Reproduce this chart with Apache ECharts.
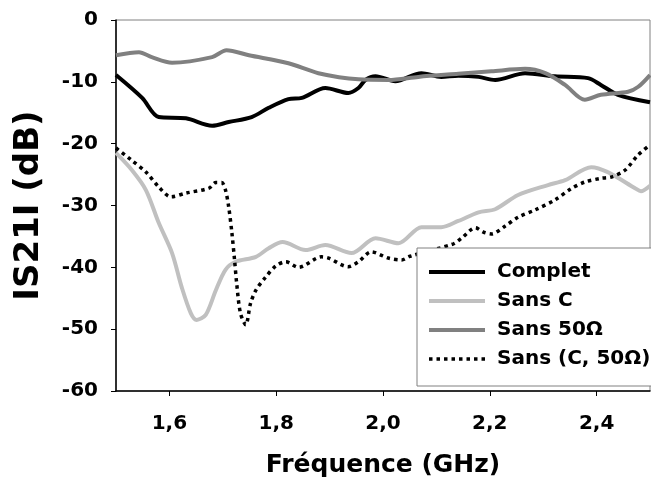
<!DOCTYPE html>
<html>
<head>
<meta charset="utf-8">
<script src="https://cdn.jsdelivr.net/npm/echarts@6/dist/echarts.min.js"></script>
<style>html,body{margin:0;padding:0;background:#fff}#c{width:651px;height:489px}</style>
</head>
<body>
<div id="c"></div>
<script>
var xTicks = [1.6, 1.8, 2.0, 2.2, 2.4];
var seriesNames = ['Complet', 'Sans C', 'Sans 50\u03A9', 'Sans (C, 50\u03A9)'];

var complet = [[1.500,-8.9],[1.549,-12.6],[1.580,-15.7],[1.631,-15.9],[1.680,-17.1],[1.711,-16.5],[1.754,-15.7],[1.786,-14.2],[1.823,-12.8],[1.848,-12.6],[1.892,-11.0],[1.935,-11.8],[1.954,-11.0],[1.967,-9.7],[1.986,-9.1],[2.023,-9.9],[2.072,-8.6],[2.109,-9.2],[2.141,-9.0],[2.179,-9.2],[2.210,-9.7],[2.266,-8.6],[2.322,-9.1],[2.384,-9.4],[2.408,-10.5],[2.440,-12.1],[2.500,-13.3]];

var sansC = [[1.500,-21.5],[1.530,-24.3],[1.556,-27.5],[1.580,-32.8],[1.605,-37.7],[1.623,-43.2],[1.640,-47.4],[1.651,-48.5],[1.668,-47.7],[1.687,-43.7],[1.705,-40.4],[1.724,-39.1],[1.762,-38.3],[1.786,-36.9],[1.812,-35.9],[1.855,-37.2],[1.892,-36.4],[1.941,-37.7],[1.986,-35.3],[2.029,-36.1],[2.072,-33.5],[2.109,-33.5],[2.141,-32.5],[2.179,-31.1],[2.210,-30.6],[2.253,-28.3],[2.309,-26.7],[2.341,-25.9],[2.390,-23.8],[2.421,-24.6],[2.472,-27.2],[2.483,-27.7],[2.500,-26.8]];

var sans50 = [[1.500,-5.7],[1.543,-5.2],[1.567,-6.0],[1.605,-6.9],[1.680,-6.0],[1.707,-4.9],[1.749,-5.7],[1.823,-7.0],[1.879,-8.6],[1.954,-9.6],[2.010,-9.7],[2.066,-9.2],[2.141,-8.7],[2.203,-8.3],[2.266,-7.9],[2.304,-8.6],[2.341,-10.5],[2.378,-12.9],[2.408,-12.1],[2.459,-11.6],[2.478,-10.8],[2.500,-8.9]];

var sansC50 = [[1.500,-20.7],[1.528,-22.6],[1.556,-24.6],[1.580,-27.0],[1.603,-28.6],[1.631,-28.0],[1.674,-27.2],[1.687,-26.3],[1.698,-26.3],[1.705,-27.5],[1.711,-30.2],[1.717,-34.4],[1.722,-38.8],[1.726,-42.6],[1.733,-47.4],[1.743,-49.3],[1.752,-45.8],[1.762,-43.7],[1.780,-41.6],[1.799,-39.8],[1.818,-39.1],[1.842,-40.0],[1.885,-38.3],[1.898,-38.5],[1.935,-39.9],[1.954,-39.1],[1.978,-37.5],[2.010,-38.5],[2.035,-38.8],[2.051,-38.2],[2.132,-36.2],[2.147,-35.3],[2.173,-33.6],[2.188,-34.3],[2.203,-34.6],[2.229,-33.3],[2.253,-31.9],[2.285,-30.7],[2.322,-29.1],[2.352,-27.3],[2.378,-26.2],[2.408,-25.6],[2.427,-25.4],[2.453,-24.3],[2.478,-21.8],[2.500,-20.2]];

var FONT = 'DejaVu Sans';
var colors = ['#000000', '#c0c0c0', '#808080', '#000000'];
var widths = [4, 4, 4, 3.5];
var types = ['solid', 'solid', 'solid', [3.5, 4]];

var chart = echarts.init(document.getElementById('c'), null, {renderer: 'canvas'});
function mk(i, data) {
  return {
    name: seriesNames[i], type: 'line', data: data, smooth: 0.3, symbol: 'none',
    lineStyle: {color: colors[i], width: widths[i], type: types[i]},
    itemStyle: {color: colors[i]},
    emphasis: {disabled: true}, animation: false
  };
}
var legendData = seriesNames.map(function (n, i) {
  return {name: n, itemStyle: {opacity: 0},
          lineStyle: {color: colors[i], width: widths[i], type: types[i], opacity: 1}};
});
chart.setOption({
  animation: false,
  grid: {left: 116, right: 1, top: 20, bottom: 98, show: true, borderColor: '#808080', borderWidth: 1},
  xAxis: {
    type: 'value', min: 1.5, max: 2.5,
    name: 'Fr\u00e9quence (GHz)', nameLocation: 'middle', nameGap: 62,
    nameTextStyle: {fontFamily: FONT, fontWeight: 'bold', fontSize: 25, color: '#000'},
    axisLine: {show: true, onZero: false, lineStyle: {color: '#000', width: 1.5}},
    axisTick: {show: true, length: 5, customValues: xTicks, lineStyle: {color: '#000', width: 1}},
    axisLabel: {customValues: xTicks, margin: 23, fontFamily: FONT, fontWeight: 'bold', fontSize: 20, color: '#000',
      formatter: function (v) { return v.toFixed(1).replace('.', ','); }},
    splitLine: {show: false}
  },
  yAxis: {
    type: 'value', min: -60, max: 0, interval: 10,
    name: 'IS21I (dB)', nameLocation: 'middle', nameGap: 70,
    nameTextStyle: {fontFamily: FONT, fontWeight: 'bold', fontSize: 34, color: '#000'},
    axisLine: {show: true, onZero: false, lineStyle: {color: '#000', width: 1.5}},
    axisTick: {show: true, length: 5, lineStyle: {color: '#000', width: 1}},
    axisLabel: {margin: 18, fontFamily: FONT, fontWeight: 'bold', fontSize: 20, color: '#000'},
    splitLine: {show: false}
  },
  legend: {
    orient: 'vertical', left: 417, top: 248,
    data: legendData,
    itemWidth: 56, itemHeight: 14, itemGap: 9,
    padding: [14, 20, 17, 10],
    backgroundColor: '#fff', borderColor: '#808080', borderWidth: 1,
    textStyle: {fontFamily: FONT, fontWeight: 'bold', fontSize: 20, color: '#000', padding: [0, 0, 0, 7]},
    selectedMode: false
  },
  series: [
    mk(0, complet),
    mk(1, sansC),
    mk(2, sans50),
    mk(3, sansC50)
  ]
});
</script>
</body>
</html>
